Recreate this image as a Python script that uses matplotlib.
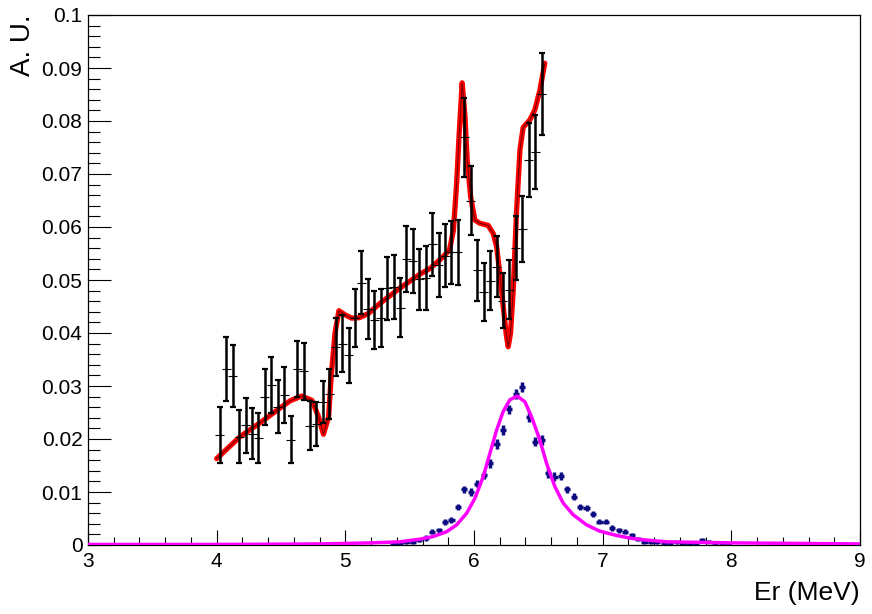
import numpy as np
import matplotlib
matplotlib.use('Agg')
import matplotlib.pyplot as plt
from matplotlib.ticker import MultipleLocator, FixedLocator, FixedFormatter

plt.rcParams['font.family'] = ['Liberation Sans', 'DejaVu Sans']

# dados (pontos pretos)
x_dados = [4.025, 4.075, 4.125, 4.175, 4.225, 4.275, 4.325, 4.375, 4.425, 4.475,
           4.525, 4.575, 4.625, 4.675, 4.725, 4.775, 4.825, 4.875, 4.925, 4.975,
           5.025, 5.075, 5.125, 5.175, 5.225, 5.275, 5.325, 5.375, 5.425, 5.475,
           5.525, 5.575, 5.625, 5.675, 5.725, 5.775, 5.825, 5.875, 5.925, 5.975,
           6.025, 6.075, 6.125, 6.175, 6.225, 6.275, 6.325, 6.375, 6.425, 6.475,
           6.525]
y_dados = [0.0208, 0.0332, 0.0319, 0.0204, 0.0226, 0.0210, 0.0202, 0.0280, 0.0302, 0.0261,
           0.0283, 0.0199, 0.0332, 0.0328, 0.0225, 0.0228, 0.0270, 0.0285, 0.0374, 0.0380,
           0.0358, 0.0428, 0.0495, 0.0445, 0.0425, 0.0428, 0.0484, 0.0487, 0.0448, 0.0540,
           0.0536, 0.0501, 0.0504, 0.0567, 0.0528, 0.0546, 0.0552, 0.0552, 0.0769, 0.0650,
           0.0518, 0.0478, 0.0499, 0.0525, 0.0461, 0.0482, 0.0560, 0.0596, 0.0726, 0.0741,
           0.0851]
erro_dados = [0.0053, 0.0060, 0.0058, 0.0050, 0.0052, 0.0048, 0.0047, 0.0053, 0.0053, 0.0050,
              0.0053, 0.0044, 0.0053, 0.0054, 0.0046, 0.0041, 0.0040, 0.0047, 0.0055, 0.0054,
              0.0052, 0.0055, 0.0060, 0.0057, 0.0055, 0.0055, 0.0060, 0.0060, 0.0055, 0.0062,
              0.0060, 0.0058, 0.0060, 0.0060, 0.0060, 0.0060, 0.0060, 0.0061, 0.0074, 0.0065,
              0.0057, 0.0055, 0.0055, 0.0058, 0.0052, 0.0055, 0.0060, 0.0062, 0.0070, 0.0070,
              0.0077]

# curva do ajuste (vermelha)
x_ajuste = [4.00, 4.18, 4.34, 4.49, 4.57, 4.66, 4.74, 4.79, 4.83, 4.87,
            4.89, 4.92, 4.95, 5.00, 5.05, 5.11, 5.18, 5.27, 5.42, 5.58,
            5.66, 5.72, 5.76, 5.81, 5.84, 5.865, 5.885, 5.908, 5.93, 5.947,
            5.974, 6.007, 6.046, 6.11, 6.149, 6.176, 6.20, 6.227, 6.253, 6.266,
            6.284, 6.305, 6.33, 6.357, 6.382, 6.434, 6.473, 6.512, 6.55]
y_ajuste = [0.0163, 0.0204, 0.0231, 0.0258, 0.0272, 0.0281, 0.0273, 0.0243, 0.0209, 0.0242,
            0.0318, 0.0400, 0.0442, 0.0434, 0.0428, 0.0429, 0.0437, 0.0456, 0.0484, 0.0511,
            0.0522, 0.0535, 0.0544, 0.0557, 0.0594, 0.0682, 0.0777, 0.0872, 0.0808, 0.0726,
            0.0657, 0.0613, 0.0607, 0.0603, 0.0588, 0.0563, 0.0513, 0.0450, 0.0393, 0.0374,
            0.0400, 0.0481, 0.0626, 0.0745, 0.0788, 0.0802, 0.0821, 0.0858, 0.0909]

# pontos azuis
x_azul = [5.375, 5.425, 5.475, 5.525, 5.575, 5.625, 5.675, 5.725, 5.775, 5.825,
          5.875, 5.925, 5.975, 6.025, 6.075, 6.125, 6.175, 6.225, 6.275, 6.325,
          6.375, 6.425, 6.475, 6.525, 6.575, 6.625, 6.675, 6.725, 6.775, 6.825,
          6.875, 6.925, 6.975, 7.025, 7.075, 7.125, 7.175, 7.225, 7.275, 7.325,
          7.375, 7.425, 7.475, 7.525, 7.575, 7.625, 7.675, 7.725, 7.775, 7.825,
          7.875, 7.925, 7.975]
y_azul = [0.0002, 0.0003, 0.0005, 0.0006, 0.0009, 0.0013, 0.0025, 0.0028, 0.0043, 0.0047,
          0.0072, 0.0105, 0.0100, 0.0116, 0.0132, 0.0154, 0.0191, 0.0217, 0.0256, 0.0285,
          0.0298, 0.0242, 0.0195, 0.0198, 0.0135, 0.0129, 0.0130, 0.0105, 0.0091, 0.0072,
          0.0070, 0.0058, 0.0044, 0.0044, 0.0032, 0.0028, 0.0025, 0.0018, 0.0012, 0.0006,
          0.0005, 0.0005, 0.0004, 0.0004, 0.0005, 0.0003, 0.0002, 0.0003, 0.0010, 0.0006,
          0.0002, 0.0002, 0.0001]
erro_azul = [0.0003, 0.0003, 0.0004, 0.0004, 0.0004, 0.0005, 0.0005, 0.0005, 0.0006, 0.0006,
             0.0006, 0.0007, 0.0007, 0.0007, 0.0008, 0.0008, 0.0009, 0.0009, 0.0009, 0.0010,
             0.0010, 0.0009, 0.0009, 0.0009, 0.0008, 0.0008, 0.0008, 0.0007, 0.0007, 0.0006,
             0.0006, 0.0006, 0.0005, 0.0005, 0.0005, 0.0005, 0.0005, 0.0004, 0.0004, 0.0004,
             0.0003, 0.0003, 0.0003, 0.0003, 0.0003, 0.0003, 0.0003, 0.0003, 0.0004, 0.0003,
             0.0003, 0.0003, 0.0002]

# curva magenta
x_lorentz = [3.0, 4.0, 4.8, 5.2, 5.424, 5.58, 5.683, 5.787, 5.865, 5.943,
             6.007, 6.072, 6.124, 6.176, 6.227, 6.279, 6.336, 6.396, 6.447, 6.512,
             6.564, 6.629, 6.693, 6.771, 6.875, 6.978, 7.108, 7.237, 7.354, 7.496,
             8.01, 9.0]
y_lorentz = [0.0001, 0.0001, 0.0002, 0.0004, 0.0006, 0.0011, 0.0016, 0.0025, 0.0038, 0.0060,
             0.0088, 0.0129, 0.0173, 0.0217, 0.0252, 0.0274, 0.0281, 0.0270, 0.0242, 0.0198,
             0.0154, 0.0110, 0.0079, 0.0057, 0.0038, 0.0026, 0.0018, 0.0012, 0.0009, 0.0006,
             0.0004, 0.0002]

rotulos_y = ['0', '0.01', '0.02', '0.03', '0.04', '0.05', '0.06', '0.07', '0.08', '0.09', '0.1']

fig = plt.figure(figsize=(8.72, 6.14), dpi=100)
ax = fig.add_axes([88 / 872, 69 / 614, 772 / 872, 530 / 614])

ax.plot(x_ajuste, y_ajuste, color='#ff0000', lw=3.8, solid_capstyle='round', zorder=2)
ax.plot(x_ajuste, y_ajuste, color='#400000', lw=0.8, alpha=0.7, zorder=2)

# barras de erro pretas
ax.errorbar(x_dados, y_dados, yerr=erro_dados, fmt='none', ecolor='black',
            elinewidth=1.8, capsize=2.3, capthick=1.6, zorder=3)
ax.errorbar(x_dados, y_dados, xerr=0.035, fmt='none', ecolor='black',
            elinewidth=0.8, zorder=3)

ax.errorbar(x_azul, y_azul, yerr=erro_azul, xerr=0.024, fmt='none',
            ecolor='#0c0c80', elinewidth=2.5, zorder=3)
ax.plot(x_lorentz, y_lorentz, color='#ff00ff', lw=2.5, zorder=4)

ax.set_xlim(3, 9)
ax.set_ylim(0, 0.1)

ax.xaxis.set_major_locator(MultipleLocator(1))
ax.xaxis.set_minor_locator(MultipleLocator(0.2))
ax.yaxis.set_major_locator(FixedLocator(np.linspace(0, 0.1, 11)))
ax.yaxis.set_major_formatter(FixedFormatter(rotulos_y))
ax.yaxis.set_minor_locator(MultipleLocator(0.002))

ax.tick_params(axis='x', which='major', direction='in', length=11, width=0.8,
               labelsize=15, pad=5)
ax.tick_params(axis='x', which='minor', direction='in', length=5.5, width=0.8)
ax.tick_params(axis='y', which='major', direction='in', length=16.5, width=0.8,
               labelsize=15, pad=4)
ax.tick_params(axis='y', which='minor', direction='in', length=8.3, width=0.8)

for s in ax.spines.values():
    s.set_linewidth(0.9)

ax.set_xlabel('Er (MeV)', fontsize=19, loc='right')
ax.xaxis.set_label_coords(1.0, -0.068)
ax.set_ylabel('A. U.', fontsize=20, loc='top')
ax.yaxis.set_label_coords(-0.068, 1.0)

plt.savefig('out.png', dpi=100)
